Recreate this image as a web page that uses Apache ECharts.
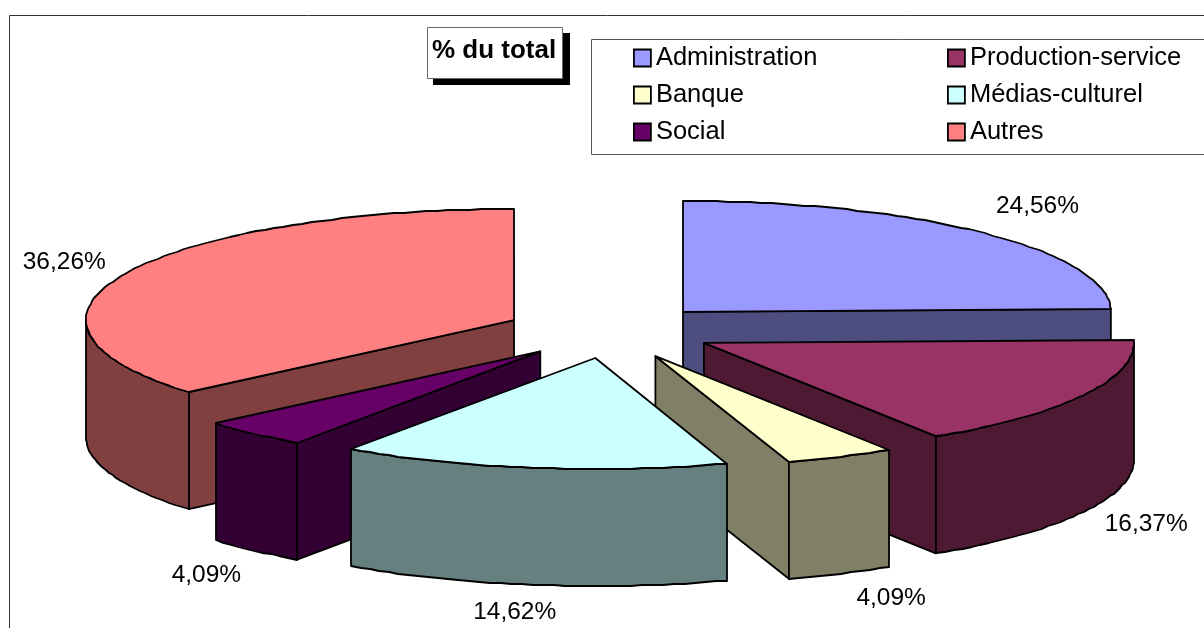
<!DOCTYPE html>
<html>
<head>
<meta charset="utf-8">
<style>
  html, body { margin: 0; padding: 0; background: #fff; }
  #chart { width: 1204px; height: 628px; }
</style>
<script src="https://cdn.jsdelivr.net/npm/echarts@6/dist/echarts.min.js"></script>
</head>
<body>
<div id="chart"></div>
<script>
const categories = ['Administration', 'Production-service', 'Banque', 'Médias-culturel', 'Social', 'Autres'];
const shares = [24.56, 16.37, 4.09, 14.62, 4.09, 36.26];
const chartTitle = '% du total';

// look of the slices, same order as categories
const topColors = ['#9999FF', '#993366', '#FFFFCC', '#CCFFFF', '#660066', '#FF8080'];
const wallColors = ['#4D4D80', '#4D1933', '#808066', '#668080', '#330033', '#804040'];
const paintOrder = [0, 1, 5, 4, 2, 3]; // back to front
const labelNudge = [[56, -26], [64, 12], [53, 25], [-18, 27], [-47, 25], [-61, -11]];
// the old 3d pie is not quite regular, small per slice corrections
const apexNudge = [[0, 0], [1.5, -1], [0.5, 0.5], [0, 0], [-0.5, 0], [-2, 0]];
const sliceRx = [428, 430, 434, 428, 427, 428];

const FONT = '"Liberation Sans", Arial, sans-serif';
const pie = { cx: 610.5, cy: 331.3, rx: 428, ry: 111, depth: 117, explode: 0.243 };
const total = shares.reduce((a, b) => a + b, 0);

function rad(deg) { return deg * Math.PI / 180; }

function sliceAngles(index) {
  let start = 0;
  for (let i = 0; i < index; i++) start += shares[i] / total * 360;
  return [start, start + shares[index] / total * 360];
}

function rimPoint(apex, rx, deg) {
  return [apex[0] + rx * Math.sin(rad(deg)), apex[1] - pie.ry * Math.cos(rad(deg))];
}

function arcPoints(apex, rx, from, to) {
  const pts = [];
  const steps = Math.max(2, Math.ceil((to - from) / 1.5));
  for (let i = 0; i <= steps; i++) {
    const p = rimPoint(apex, rx, from + (to - from) * i / steps);
    // whole pixels give the same stepped edge as the original
    pts.push([Math.round(p[0]), Math.round(p[1])]);
  }
  return pts;
}

function down(p) { return [p[0], p[1] + pie.depth]; }

function face(points, fill) {
  return {
    type: 'polygon',
    shape: { points: points },
    style: { fill: fill, stroke: '#000', lineWidth: 1.8, lineJoin: 'round' }
  };
}

function renderSlice(index) {
  return function (params, api) {
    const [start, end] = sliceAngles(index);
    const mid = (start + end) / 2;
    const rx = sliceRx[index];
    const apex = [
      pie.cx + pie.explode * pie.rx * Math.sin(rad(mid)) + apexNudge[index][0],
      pie.cy - pie.explode * pie.ry * Math.cos(rad(mid)) + apexNudge[index][1]
    ];
    const children = [];
    // cut faces that look towards the viewer
    if (Math.sin(rad(start)) < -1e-6) {
      const p = rimPoint(apex, rx, start);
      children.push(face([apex, p, down(p), down(apex)], wallColors[index]));
    }
    if (Math.sin(rad(end)) > 1e-6) {
      const p = rimPoint(apex, rx, end);
      children.push(face([apex, p, down(p), down(apex)], wallColors[index]));
    }
    // only the front half of the rim shows
    const from = Math.max(start, 90), to = Math.min(end, 270);
    if (to > from) {
      const rim = arcPoints(apex, rx, from, to);
      children.push(face(rim.concat(rim.map(down).reverse()), wallColors[index]));
    }
    children.push(face([apex].concat(arcPoints(apex, rx, start, end)), topColors[index]));

    const anchor = rimPoint(apex, pie.rx, mid);
    const front = Math.cos(rad(mid)) < 0 ? pie.depth : 0;
    children.push({
      type: 'text',
      style: {
        text: api.value(0).toFixed(2).replace('.', ',') + '%',
        x: anchor[0] + labelNudge[index][0],
        y: anchor[1] + front + labelNudge[index][1],
        font: '24.5px ' + FONT,
        fill: '#000',
        align: 'center',
        verticalAlign: 'middle'
      }
    });
    return { type: 'group', children: children };
  };
}

function legendColumn(left, names) {
  return {
    orient: 'vertical',
    left: left,
    top: 45,
    padding: 0,
    itemWidth: 17,
    itemHeight: 17,
    itemGap: 11,
    icon: 'rect',
    selectedMode: false,
    data: names,
    itemStyle: { borderColor: '#000', borderWidth: 1.8 },
    textStyle: { fontFamily: FONT, fontSize: 25.5, color: '#000', padding: 0, lineHeight: 26 }
  };
}

const chart = echarts.init(document.getElementById('chart'), null, { renderer: 'canvas' });
chart.setOption({
  animation: false,
  backgroundColor: '#fff',
  title: {
    text: chartTitle,
    left: 427,
    top: 27,
    padding: [11, 7, 15, 5],
    backgroundColor: '#fff',
    borderColor: '#666',
    borderWidth: 1,
    textStyle: { fontFamily: FONT, fontSize: 26, lineHeight: 26, fontWeight: 'bold', color: '#000' }
  },
  legend: [
    legendColumn(633, [categories[0], categories[2], categories[4]]),
    legendColumn(947, [categories[1], categories[3], categories[5]])
  ],
  graphic: [
    { type: 'rect', z: -1, shape: { x: 9.5, y: 15.5, width: 1300, height: 800 },
      style: { fill: '#fff', stroke: '#333', lineWidth: 1 } },
    { type: 'rect', z: -1, shape: { x: 591.5, y: 39.5, width: 700, height: 115 },
      style: { fill: '#fff', stroke: '#555', lineWidth: 1 } },
    // drop shadow of the title box, a real shadow would also fall on its fill
    { type: 'rect', z: -1, shape: { x: 433, y: 33, width: 137, height: 52 },
      style: { fill: '#000' } }
  ],
  series: paintOrder.map(i => ({
    type: 'custom',
    name: categories[i],
    coordinateSystem: 'none',
    silent: true,
    itemStyle: { color: topColors[i] },
    data: [[shares[i]]],
    renderItem: renderSlice(i)
  }))
});
</script>
</body>
</html>
